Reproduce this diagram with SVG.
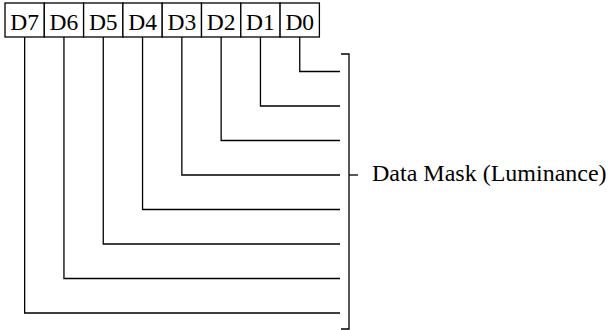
<svg xmlns="http://www.w3.org/2000/svg" width="611" height="330" viewBox="0 0 611 330">
<style>
.box{fill:#fff;stroke:#000;stroke-width:1.3}
.lbl{font-family:"Liberation Serif","Times New Roman",serif;font-size:23.5px;fill:#000;text-anchor:middle}
.wire{fill:none;stroke:#000;stroke-width:1.3}
.note{font-family:"Liberation Serif","Times New Roman",serif;font-size:24px;fill:#000}
</style>
<rect width="611" height="330" fill="#fff"/>
<g id="D7"><rect class="box" x="5" y="3" width="39.3" height="34"/><text class="lbl" x="24.65" y="29.5">D7</text></g>
<g id="D6"><rect class="box" x="44.3" y="3" width="39.3" height="34"/><text class="lbl" x="63.95" y="29.5">D6</text></g>
<g id="D5"><rect class="box" x="83.6" y="3" width="39.3" height="34"/><text class="lbl" x="103.25" y="29.5">D5</text></g>
<g id="D4"><rect class="box" x="122.9" y="3" width="39.3" height="34"/><text class="lbl" x="142.55" y="29.5">D4</text></g>
<g id="D3"><rect class="box" x="162.2" y="3" width="39.3" height="34"/><text class="lbl" x="181.85" y="29.5">D3</text></g>
<g id="D2"><rect class="box" x="201.5" y="3" width="39.3" height="34"/><text class="lbl" x="221.15" y="29.5">D2</text></g>
<g id="D1"><rect class="box" x="240.8" y="3" width="39.3" height="34"/><text class="lbl" x="260.45" y="29.5">D1</text></g>
<g id="D0"><rect class="box" x="280.1" y="3" width="39.3" height="34"/><text class="lbl" x="299.75" y="29.5">D0</text></g>
<g id="connectors">
<path class="wire" d="M299.75 37V71.5H340"/>
<path class="wire" d="M260.45 37V106H340"/>
<path class="wire" d="M221.15 37V140.5H340"/>
<path class="wire" d="M181.85 37V175H340"/>
<path class="wire" d="M142.55 37V209.5H340"/>
<path class="wire" d="M103.25 37V244H340"/>
<path class="wire" d="M63.95 37V278.5H340"/>
<path class="wire" d="M24.65 37V313H340"/>
</g>
<g id="mask">
<path class="wire" d="M341 54H349V329H341"/>
<path class="wire" d="M349 175H358"/>
<text class="note" x="372" y="181">Data Mask (Luminance)</text>
</g>
</svg>
